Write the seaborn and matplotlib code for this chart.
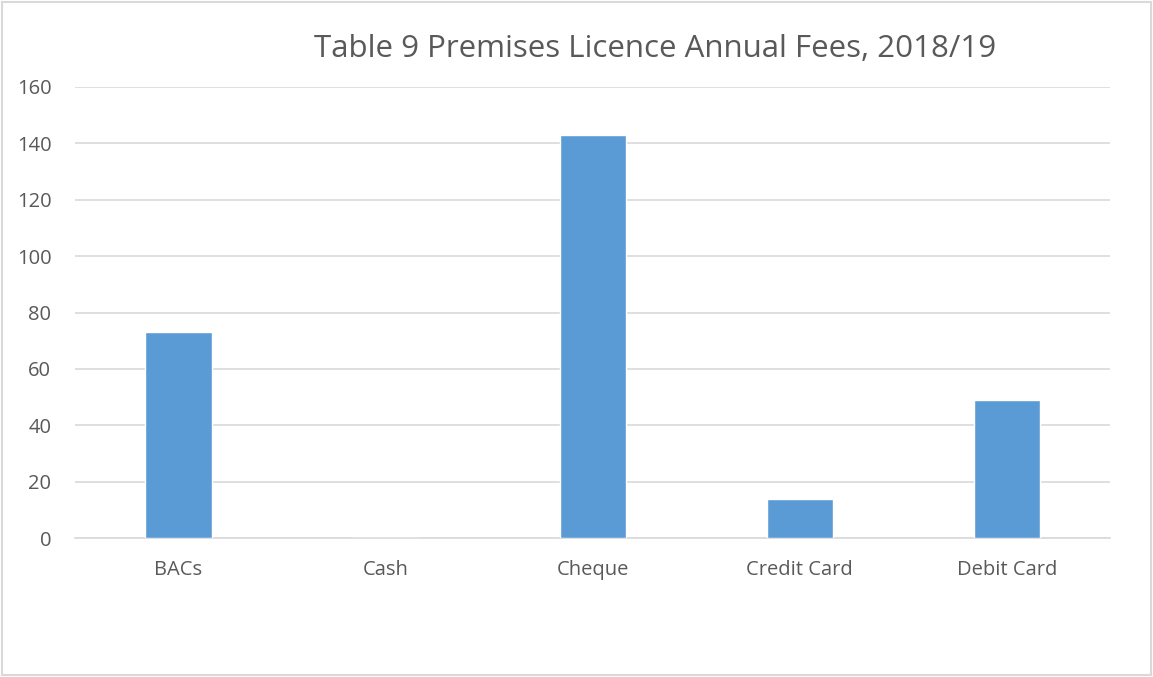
import matplotlib
matplotlib.use("Agg")
import matplotlib.pyplot as plt
import seaborn as sns
import pandas as pd

# Payment methods and number of annual fees received
methods = ["BACs", "Cash", "Cheque", "Credit Card", "Debit Card"]
fees = [73, 0, 143, 14, 49]
y_ticks = [0, 20, 40, 60, 80, 100, 120, 140, 160]

df = pd.DataFrame({"method": methods, "fees": fees})

sns.set_theme(style="white")
plt.rcParams["font.family"] = ["Open Sans", "DejaVu Sans"]

fig = plt.figure(figsize=(11.53, 6.77), dpi=100)
ax = fig.add_axes([0.065, 0.2053, 0.898, 0.6662])

sns.barplot(data=df, x="method", y="fees", color="#5b9bd5", saturation=1,
            width=0.32, ax=ax, zorder=3)

ax.set_ylim(0, 160)
ax.set_xlim(-0.5, len(methods) - 0.5)
ax.set_yticks(y_ticks)
ax.yaxis.grid(True, color="#d9d9d9", linewidth=1.2, zorder=0)
ax.set_axisbelow(True)
for side in ["top", "right", "left"]:
    ax.spines[side].set_visible(False)
ax.spines["bottom"].set_color("#d9d9d9")
ax.spines["bottom"].set_linewidth(1.2)
ax.tick_params(axis="both", length=0, colors="#595959", labelsize=14.5)
ax.tick_params(axis="y", pad=17)
ax.tick_params(axis="x", pad=16)
ax.set_xlabel("")
ax.set_ylabel("")

fig.text(0.568, 0.928, "Table 9 Premises Licence Annual Fees, 2018/19",
         ha="center", va="center", fontsize=22.5, color="#595959")

# light frame around the chart area
fig.patches.append(plt.Rectangle((0.002, 0.003), 0.996, 0.994, transform=fig.transFigure,
                                 fill=False, edgecolor="#d9d9d9", linewidth=1.5))

fig.savefig("out.png", dpi=100)
